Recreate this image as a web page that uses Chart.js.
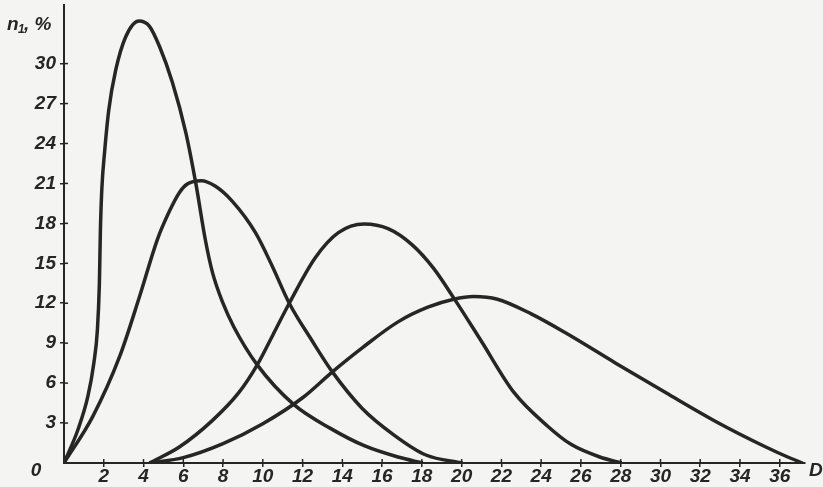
<!DOCTYPE html>
<html>
<head>
<meta charset="utf-8">
<script src="https://cdn.jsdelivr.net/npm/chart.js@4/dist/chart.umd.min.js"></script>
<style>
  html, body { margin: 0; padding: 0; background: #f4f4f2; }
  #wrap { width: 823px; height: 487px; }
</style>
</head>
<body>
<div id="wrap"><canvas id="distChart" width="823" height="487"></canvas></div>
<script>
// axis ticks
const xTicks = [2, 4, 6, 8, 10, 12, 14, 16, 18, 20, 22, 24, 26, 28, 30, 32, 34, 36];
const yTicks = [3, 6, 9, 12, 15, 18, 21, 24, 27, 30];

// curve 1 (peak near D = 4)
const d1 = [0, 0.7, 1.2, 1.5, 1.68, 1.78, 1.83, 1.9, 2.05, 2.25, 2.6, 3.1, 3.77, 4.3, 4.8, 5.45, 6.13, 6.63, 7.13, 7.47, 7.97, 8.55, 9.72, 11.55, 13.4, 15.1, 16.8, 18.05];
const n1 = [0, 2.5, 5, 7.5, 10, 13.5, 17.4, 20.5, 23.5, 26.5, 29.5, 32, 33.2, 32.8, 31.3, 28.6, 24.8, 21, 16.6, 14.3, 12.1, 10.2, 7.37, 4.4, 2.6, 1.3, 0.45, 0];

// curve 2 (peak near D = 7)
const d2 = [0, 1.45, 2.8, 3.8, 4.7, 5.3, 5.8, 6.2, 6.9, 7.6, 8.47, 9.63, 10.47, 11.33, 12.47, 13.47, 15, 16.6, 18.2, 20.05];
const n2 = [0, 3.5, 8, 12.5, 16.8, 18.9, 20.3, 20.95, 21.2, 20.8, 19.65, 17.3, 14.8, 12, 9.2, 6.9, 4.1, 2.1, 0.6, 0];

// curve 3 (peak near D = 15)
const d3 = [4.3, 5.8, 7.47, 8.8, 9.72, 10.5, 11.33, 12.63, 13.8, 15.1, 16.3, 17.5, 18.6, 19.6, 20.97, 22.63, 24.3, 25.5, 26.95, 28.05];
const n3 = [0, 1.2, 3.2, 5.3, 7.37, 9.6, 12, 15.4, 17.3, 17.95, 17.6, 16.4, 14.6, 12.4, 9.2, 5.3, 2.8, 1.4, 0.45, 0];

// curve 4 (peak near D = 20)
const d4 = [4.3, 6, 8, 10, 12, 13.5, 15, 16.8, 18.3, 19.6, 20.6, 21.8, 23.5, 25.2, 27.75, 30.3, 32.8, 35.3, 36.4, 37.15];
const n4 = [0, 0.4, 1.45, 2.95, 4.9, 6.85, 8.65, 10.6, 11.7, 12.3, 12.5, 12.3, 11.2, 9.8, 7.5, 5.25, 3.1, 1.2, 0.45, 0];

const ink = '#262626';
const fontFamily = '"Liberation Sans", Arial, sans-serif';
const labelFont = 'italic bold 19px ' + fontFamily;

function pairs(xs, ys) {
    return xs.map((x, i) => ({ x: x, y: ys[i] }));
}

function curve(xs, ys) {
    return {
        data: pairs(xs, ys),
        borderColor: ink,
        borderWidth: 3.5,
        pointRadius: 0,
        cubicInterpolationMode: 'monotone',
        fill: false
    };
}

// paper background, axis names, inner halves of tick marks
const paperPlugin = {
    id: 'paper',
    beforeDraw(chart) {
        const c = chart.ctx;
        c.save();
        c.fillStyle = '#f4f4f2';
        c.fillRect(0, 0, chart.width, chart.height);
        c.restore();
    },
    afterDraw(chart) {
        const c = chart.ctx;
        const xs = chart.scales.x;
        const ys = chart.scales.y;
        const area = chart.chartArea;
        c.save();
        c.strokeStyle = ink;
        c.lineWidth = 1.5;
        xTicks.forEach(v => {
            const px = xs.getPixelForValue(v);
            c.beginPath();
            c.moveTo(px, area.bottom);
            c.lineTo(px, area.bottom - 4);
            c.stroke();
        });
        yTicks.forEach(v => {
            const py = ys.getPixelForValue(v);
            c.beginPath();
            c.moveTo(area.left, py);
            c.lineTo(area.left + 4, py);
            c.stroke();
        });

        c.fillStyle = ink;
        c.font = labelFont;
        c.textBaseline = 'middle';
        // origin label, set a little below the axis
        c.textAlign = 'center';
        c.fillText('0', area.left - 28, area.bottom + 8);
        // "D" at the end of the horizontal axis
        c.textAlign = 'left';
        c.fillText('D', area.right + 4, area.bottom + 8);
        // "n1, %" above the vertical axis
        c.fillText('n', 7, 25);
        c.font = 'italic bold 12px ' + fontFamily;
        c.fillText('1', 18, 30);
        c.font = labelFont;
        c.fillText(', %', 24, 25);
        c.restore();
    }
};

new Chart(document.getElementById('distChart'), {
    type: 'line',
    data: {
        datasets: [curve(d1, n1), curve(d2, n2), curve(d3, n3), curve(d4, n4)]
    },
    options: {
        responsive: false,
        animation: false,
        layout: { padding: { top: 5, right: 18, bottom: 0, left: 0 } },
        plugins: {
            legend: { display: false },
            tooltip: { enabled: false }
        },
        scales: {
            x: {
                type: 'linear',
                min: 0,
                max: 37.27,
                afterBuildTicks: scale => { scale.ticks = xTicks.map(v => ({ value: v })); },
                afterFit: scale => {
                    scale.height = 24;
                    scale.paddingLeft = 0;
                    scale.paddingRight = 0;
                },
                border: { display: true, color: ink, width: 2 },
                grid: { drawOnChartArea: false, drawTicks: true, tickLength: 4, color: ink, lineWidth: 1.5 },
                ticks: {
                    color: ink,
                    padding: -2,
                    maxRotation: 0,
                    autoSkip: false,
                    font: { family: fontFamily, size: 19, style: 'italic', weight: 'bold' }
                }
            },
            y: {
                type: 'linear',
                min: 0,
                max: 34.4,
                afterBuildTicks: scale => { scale.ticks = yTicks.map(v => ({ value: v })); },
                afterFit: scale => {
                    scale.width = 64;
                    scale.paddingTop = 0;
                    scale.paddingBottom = 0;
                },
                border: { display: true, color: ink, width: 2 },
                grid: { drawOnChartArea: false, drawTicks: true, tickLength: 4, color: ink, lineWidth: 1.5 },
                ticks: {
                    color: ink,
                    padding: 4,
                    autoSkip: false,
                    font: { family: fontFamily, size: 19, style: 'italic', weight: 'bold' }
                }
            }
        }
    },
    plugins: [paperPlugin]
});
</script>
</body>
</html>
